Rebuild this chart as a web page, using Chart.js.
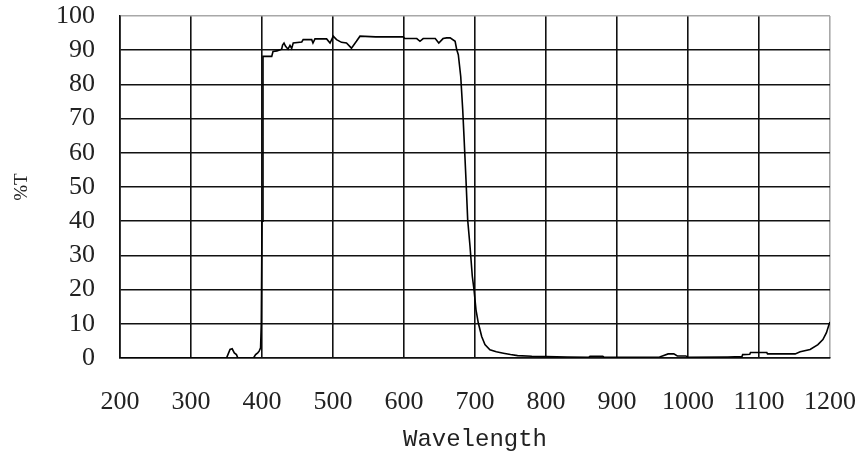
<!DOCTYPE html>
<html>
<head>
<meta charset="utf-8">
<script src="https://cdn.jsdelivr.net/npm/chart.js@4/dist/chart.umd.min.js"></script>
<style>
  html, body { margin: 0; padding: 0; background: #fff; }
  #wrap { width: 862px; height: 459px; }
</style>
</head>
<body>
<div id="wrap"><canvas id="c" width="862" height="459"></canvas></div>
<script>
// Transmission spectrum of the band-pass filter
const wavelength = [
  200, 350, 352, 355, 358, 361, 364, 366, 388, 391, 394, 396, 398, 399, 400,
  401.4, 404, 413.7, 415.5, 421, 427.7, 429, 431, 433, 436.6, 439.4, 441.8, 444,
  456, 458, 470, 471.8, 474.6, 491, 495.8, 500.4, 505, 512, 519, 526, 533, 538,
  560, 599, 601, 618, 622.5, 627, 644, 649, 655, 660, 665, 672, 674.2, 676.5,
  679.9, 682.7, 684.5, 687.3, 689.7, 693, 696.2, 698.6, 701.4, 704.6, 709.4,
  714, 721, 730, 740, 750, 760, 780, 800, 830, 860, 862, 880, 882, 900, 960,
  964, 972, 980, 985, 997, 1000, 1056, 1076, 1077, 1087, 1088, 1111, 1112, 1151,
  1158, 1172, 1183, 1190, 1195, 1198.5, 1200
];
const transmittance = [
  0, 0, 1, 2.5, 2.7, 1.5, 1, 0, 0, 1, 1.5, 2, 3, 10, 40,
  88.2, 88.2, 88.2, 89.6, 89.8, 90.3, 91.5, 92.1, 91.2, 90.3, 91.4, 90.5, 92.1,
  92.4, 93.1, 93.1, 92.1, 93.3, 93.3, 92.1, 94.1, 93.1, 92.3, 92.1, 90.6, 92.6, 94.1,
  93.9, 93.9, 93.4, 93.4, 92.6, 93.4, 93.4, 92.1, 93.4, 93.6, 93.6, 92.6, 90.2, 88.7,
  82.3, 72.6, 64.8, 52.1, 40.4, 32.6, 23.9, 20, 14.1, 10.3, 6.3,
  3.9, 2.4, 1.8, 1.4, 1.0, 0.7, 0.5, 0.4, 0.3, 0.2, 0.5, 0.5, 0.2, 0.2, 0.3,
  0.6, 1.2, 1.2, 0.6, 0.6, 0.2, 0.3, 0.4, 1.0, 1.1, 1.6, 1.6, 1.2, 1.2,
  1.8, 2.5, 3.9, 5.4, 7.4, 9.7, 10.5
];
const xTicks = [200, 300, 400, 500, 600, 700, 800, 900, 1000, 1100, 1200];
const yTicks = [0, 10, 20, 30, 40, 50, 60, 70, 80, 90, 100];

const points = wavelength.map((w, i) => ({ x: w, y: transmittance[i] }));

const tickFont = { family: '"Liberation Serif", serif', size: 26 };
const gridColor = (edge) => (ctx) => (ctx.tick && ctx.tick.value === edge ? '#a8a8a8' : '#111');

// keep the plot frame fixed: labels may overhang the chart area edges
const noOverhang = (s) => { s.paddingLeft = 0; s.paddingRight = 0; s.paddingTop = 0; s.paddingBottom = 0; };

new Chart(document.getElementById('c'), {
  type: 'line',
  data: {
    datasets: [{
      data: points,
      borderColor: '#000',
      borderWidth: 1.6,
      pointRadius: 0,
      tension: 0,
      fill: false
    }]
  },
  options: {
    responsive: false,
    animation: false,
    layout: { padding: { left: 0, right: 32, top: 16, bottom: 0 } },
    plugins: { legend: { display: false }, tooltip: { enabled: false } },
    scales: {
      x: {
        type: 'linear',
        min: xTicks[0],
        max: xTicks[xTicks.length - 1],
        afterBuildTicks: (s) => { s.ticks = xTicks.map(v => ({ value: v })); },
        afterFit: (s) => { s.height = 101; noOverhang(s); },
        ticks: { font: tickFont, color: '#222', padding: 29, maxRotation: 0, autoSkip: false,
                 callback: (v) => String(v) },
        grid: { color: gridColor(1200), lineWidth: 1.6, drawTicks: false },
        border: { color: '#111', width: 1.6 },
        title: {
          display: true,
          text: 'Wavelength',
          font: { family: '"Liberation Mono", monospace', size: 24 },
          color: '#222',
          padding: { top: 0, bottom: 5 }
        }
      },
      y: {
        min: yTicks[0],
        max: yTicks[yTicks.length - 1],
        afterBuildTicks: (s) => { s.ticks = yTicks.map(v => ({ value: v })); },
        afterFit: (s) => { s.width = 120; noOverhang(s); },
        ticks: { font: tickFont, color: '#222', padding: 25, autoSkip: false,
                 callback: (v) => String(v) },
        grid: { color: gridColor(100), lineWidth: 1.6, drawTicks: false },
        border: { color: '#111', width: 1.6 },
        title: {
          display: true,
          text: '%T',
          font: { family: '"Liberation Serif", serif', size: 19 },
          color: '#222',
          padding: { top: 11, bottom: 0 }
        }
      }
    }
  }
});
</script>
</body>
</html>
